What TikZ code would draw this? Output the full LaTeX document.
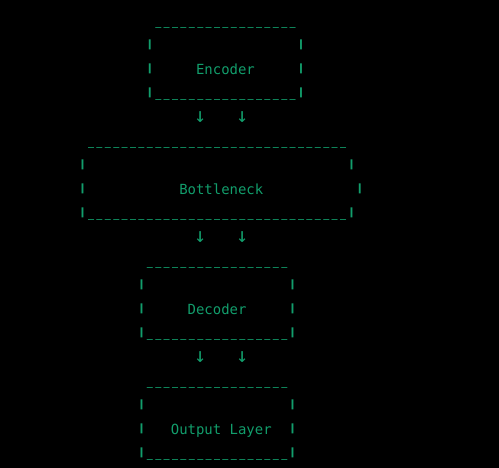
\documentclass[tikz,border=0pt]{standalone}
\usepackage{fontspec}
\usepackage{graphicx}
\usepackage{tikz}
\newfontfamily\termfont{DejaVu Sans Mono}
\definecolor{termgreen}{RGB}{18,158,108}
\newlength{\charw}
\setlength{\charw}{8.4pt}
% one cell of the ascii art
\newcommand{\us}{\makebox[\charw]{\raisebox{3.2pt}{\scalebox{0.72}[1.5]{\_}}}}
\newcommand{\vb}{\makebox[\charw]{\raisebox{2.4pt}{\scalebox{1.6}[0.72]{|}}}}
\newcommand{\dn}{\makebox[\charw]{\raisebox{-0.5pt}{\scalebox{1.45}{↓}}}}
\newcommand{\sps}[1]{\hspace*{#1\charw}}
\newcommand{\hl}[1]{\foreach \i in {1,...,#1}{\us}}
\tikzstyle{asciiline} = [
    anchor=base west, inner sep=0pt, outer sep=0pt,
    text=termgreen,
    font=\termfont\fontsize{13.95}{24}\selectfont
]

\begin{document}
\begin{tikzpicture}[x=1pt, y=-1pt]
        \fill[black] (0,0) rectangle (499,468);
        \useasboundingbox (0,0) rectangle (499,468);

        % Encoder block
        \node (enctop) [asciiline] at (154.1,26.3) {\hl{17}};
        \node (encside) [asciiline] at (145.7,50.3) {\vb\sps{17}\vb};
        \node (enc) [asciiline] at (145.7,74.3) {\vb\sps{5}Encoder\sps{5}\vb};
        \node (encbot) [asciiline] at (145.7,98.3) {\vb\hl{17}\vb};
        \node (arr1) [asciiline] at (196.1,122.3) {\dn\sps{4}\dn};

        % Bottleneck block
        \node (bntop) [asciiline] at (86.9,146.3) {\hl{31}};
        \node (bnside) [asciiline] at (78.5,170.3) {\vb\sps{31}\vb};
        \node (bn) [asciiline] at (78.5,194.3) {\vb\sps{11}Bottleneck\sps{11}\vb};
        \node (bnbot) [asciiline] at (78.5,218.3) {\vb\hl{31}\vb};
        \node (arr2) [asciiline] at (196.1,242.3) {\dn\sps{4}\dn};

        % Decoder block
        \node (dectop) [asciiline] at (145.7,266.3) {\hl{17}};
        \node (decside) [asciiline] at (137.3,290.3) {\vb\sps{17}\vb};
        \node (dec) [asciiline] at (137.3,314.3) {\vb\sps{5}Decoder\sps{5}\vb};
        \node (decbot) [asciiline] at (137.3,338.3) {\vb\hl{17}\vb};
        \node (arr3) [asciiline] at (196.1,362.3) {\dn\sps{4}\dn};

        % Output block
        \node (outtop) [asciiline] at (145.7,386.3) {\hl{17}};
        \node (outside) [asciiline] at (137.3,410.3) {\vb\sps{17}\vb};
        \node (out) [asciiline] at (137.3,434.3) {\vb\sps{3}Output\sps{1}Layer\sps{2}\vb};
        \node (outbot) [asciiline] at (137.3,458.3) {\vb\hl{17}\vb};
    \end{tikzpicture}
\end{document}
